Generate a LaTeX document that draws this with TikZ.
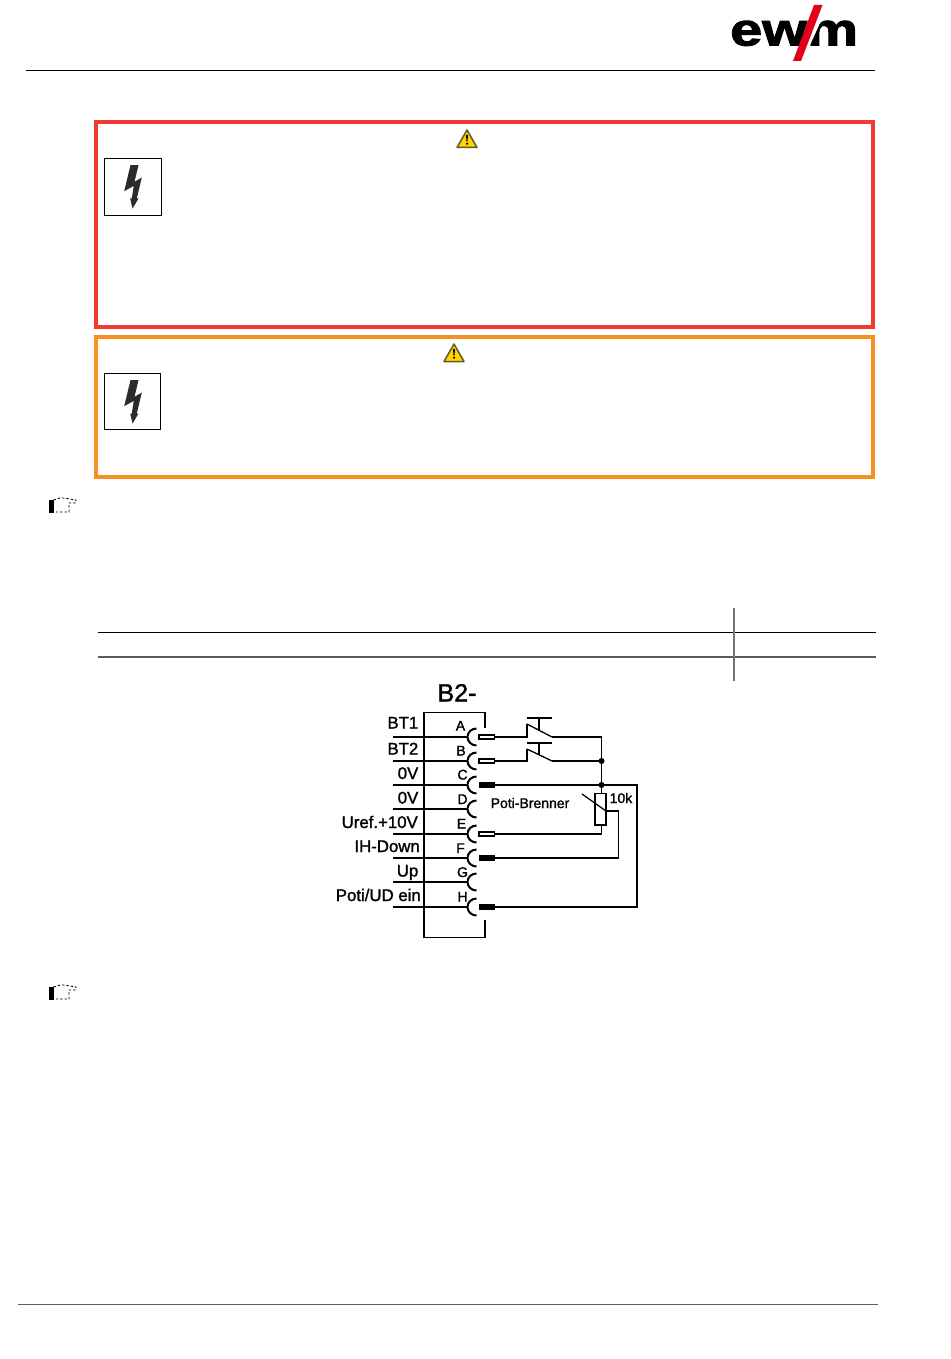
\documentclass[tikz,border=0pt]{standalone}
\usepackage{fontspec}
\setmainfont{Liberation Sans}
\newfontfamily\labfont[FakeBold=1.4]{Liberation Sans}
\usetikzlibrary{calc}
\definecolor{alarmred}{HTML}{F23A30}
\definecolor{alarmorange}{HTML}{F59121}
\definecolor{signyellow}{HTML}{FFD400}
\definecolor{signedge}{HTML}{5F5A28}
\definecolor{rulegray}{HTML}{5C5C5C}
\definecolor{logored}{HTML}{E2001A}
\definecolor{boltgray}{HTML}{2B2B2B}
\tikzset{
  x=1pt,y=-1pt,
  frame/.style={line width=4pt,miter limit=10},
  iconbox/.style={draw=black,line width=1pt},
  wire/.style={line width=1.5pt,line cap=butt,line join=miter},
  blade/.style={line width=1.3pt},
  sockarc/.style={line width=2pt},
  pinfull/.style={fill=black,draw=black,line width=.8pt},
  pinopen/.style={fill=white,draw=black,line width=1.3pt},
  lbl/.style={inner sep=0pt,anchor=base east,font=\labfont\fontsize{16.8}{16.8}\selectfont},
  letter/.style={inner sep=0pt,anchor=base,font=\labfont\fontsize{14}{14}\selectfont},
  dot/.style={circle,fill=black,inner sep=0pt,minimum size=6pt},
}
\newcommand{\boltsign}[2]{%
  \fill[boltgray] ($(#1,#2)+(26,6.7)$)--++(8,0)--($(#1,#2)+(30,23.3)$)--($(#1,#2)+(37.3,19)$)--($(#1,#2)+(32.3,40)$)--($(#1,#2)+(34,40)$)--($(#1,#2)+(28,50)$)--($(#1,#2)+(25.7,40)$)--($(#1,#2)+(27.3,40)$)--($(#1,#2)+(29.3,27.3)$)--($(#1,#2)+(19.7,32.7)$)--cycle;}
\newcommand{\warnsign}[2]{%
  \fill[signyellow,draw=signedge,line width=1.5pt,line join=round] ($(#1,#2)+(-10,9)$)--($(#1,#2)+(0,-8.5)$)--($(#1,#2)+(10,9)$)--cycle;
  \fill[black] ($(#1,#2)+(-1,-3.5)$)--($(#1,#2)+(1,-3.5)$)--($(#1,#2)+(.5,3)$)--($(#1,#2)+(-.5,3)$)--cycle;
  \fill[black] ($(#1,#2)+(0,5.2)$) circle (1.2);}
\newcommand{\handsign}[2]{%
  \fill[black] ($(#1,#2)+(49.3,499.5)$) rectangle ($(#1,#2)+(53.5,512.5)$);
  \draw[line width=.9pt,dash pattern=on 2.4pt off 2pt] ($(#1,#2)+(53.5,500)$)--($(#1,#2)+(60,498)$)--($(#1,#2)+(64,498)$)--($(#1,#2)+(76,500)$)--($(#1,#2)+(76,503)$)--($(#1,#2)+(69,503)$)--($(#1,#2)+(69,512)$)--($(#1,#2)+(53.5,512)$);}
\begin{document}
\begin{tikzpicture}
\useasboundingbox (0,0) rectangle (950,1359);
\fill[white] (0,0) rectangle (950,1359);

% header and footer rules
\coordinate (hl) at (26,71); \coordinate (hr) at (875,71);
\draw[line width=1pt] (hl)--(hr);
\coordinate (fl) at (18,1304.5); \coordinate (fr) at (878,1304.5);
\draw[line width=1.5pt,rulegray] (fl)--(fr);

% logo
\node[inner sep=0pt,anchor=base west,font=\bfseries\addfontfeature{FakeBold=2}\fontsize{46}{46}\selectfont,xscale=1.25] (logotext) at (730,45.5) {ewm};
\fill[white] (819,3)--(829,3)--(802,63)--(792,63)--cycle;
\fill[logored] (814,5)--(822.5,5)--(801,61)--(793,61)--cycle;

% danger frames
\draw[frame,alarmred] (96,122) rectangle (873,326.7);
\draw[frame,alarmorange] (96,336.7) rectangle (873,476.7);
\draw[iconbox] (104.5,158.5) rectangle (161.5,215.5);
\draw[iconbox] (104.5,373.5) rectangle (160.5,429.5);
\boltsign{104.5}{158.5}
\boltsign{104.5}{373.5}
\warnsign{467}{138.5}
\warnsign{454}{352.5}

% pointing hands
\handsign{0}{0}
\handsign{0}{487}

% table rules
\coordinate (t1l) at (97.5,632.5); \coordinate (t1r) at (875.5,632.5);
\coordinate (t2l) at (97.5,657); \coordinate (t2r) at (875.5,657);
\coordinate (tvt) at (734,608); \coordinate (tvb) at (734,681);
\draw[line width=1.2pt] (t1l)--(t1r);
\draw[line width=1.7pt,rulegray] (t2l)--(t2r);
\draw[line width=1.2pt,gray!90!black] (tvt)--(tvb);

% connector housing
\node[inner sep=0pt,anchor=base,font=\labfont\fontsize{25}{25}\selectfont] (title) at (457,701.5) {B2-};
\draw[wire] (485,728)--(485,712.5)--(424,712.5)--(424,937.5)--(485,937.5)--(485,920);

% sockets and stubs
\foreach \nm/\yy in {A/737,B/761,C/785,D/809,E/834,F/858,G/882,H/907}{
  \coordinate (stub\nm) at (393,\yy);
  \coordinate (sock\nm) at (467.5,\yy);
  \coordinate (pin\nm) at (495,\yy);
  \draw[wire] (stub\nm)--(sock\nm);
  \draw[sockarc] ($(sock\nm)+(9,8.5)$) arc[start angle=90,delta angle=180,x radius=9,y radius=8.5];
}
% pins
\foreach \nm/\yy in {A/737,B/761,E/834}{\draw[pinopen] (479,\yy-2) rectangle (494.5,\yy+2);}
\foreach \nm/\yy in {C/785,F/858,H/907}{\draw[pinfull] (479,\yy-2.3) rectangle (494.5,\yy+2.3);}

% labels
\node[lbl] (lA) at (418.5,728.5) {BT1};
\node[lbl] (lB) at (418.5,754.5) {BT2};
\node[lbl] (lC) at (418.5,779) {0V};
\node[lbl] (lD) at (418.5,803.5) {0V};
\node[lbl] (lE) at (418,828) {Uref.+10V};
\node[lbl] (lF) at (420,852) {IH-Down};
\node[lbl] (lG) at (418.5,876.5) {Up};
\node[lbl] (lH) at (421,901) {Poti/UD ein};
\node[letter] (pA) at (460.5,730.5) {A};
\node[letter] (pB) at (461,755.5) {B};
\node[letter] (pC) at (462.5,779.5) {C};
\node[letter] (pD) at (462.5,804) {D};
\node[letter] (pE) at (461.5,828.5) {E};
\node[letter] (pF) at (460.5,853) {F};
\node[letter] (pG) at (462.5,877) {G};
\node[letter] (pH) at (462.5,901.5) {H};
\node[inner sep=0pt,anchor=base,font=\labfont\fontsize{14}{14}\selectfont] (potiname) at (530,808) {Poti-Brenner};
\node[inner sep=0pt,anchor=base,font=\labfont\fontsize{14}{14}\selectfont] (tenk) at (621,803) {10k};

% switches
\coordinate (swAl) at (527,737); \coordinate (swAr) at (552,737);
\coordinate (swBl) at (527,761); \coordinate (swBr) at (552,761);
\coordinate (nB) at (601.5,761); \coordinate (nC) at (601.5,785);
\coordinate (nAr) at (601.5,737);
\draw[wire] (pinA)--(swAl)--(527,724);
\draw[wire] (pinB)--(swBl)--(527,749);
\draw[blade] (527,724)--(swAr);
\draw[blade] (527,749)--(swBr);
\draw[wire] (527,718)--(552,718) (539,718)--(539,730.5);
\draw[wire] (527,743)--(552,743) (539,743)--(539,755);
\draw[wire] (swAr)--(nAr)--(nC);
\draw[wire] (swBr)--(nB);
\node[dot] (dB) at (nB) {};
\node[dot] (dC) at (nC) {};

% potentiometer
\node[draw=black,line width=1.5pt,fill=white,minimum width=11pt,minimum height=31.5pt,inner sep=0pt] (rpot) at (600.5,809) {};
\draw[wire] (nC)--(601.5,793);
\coordinate (eturn) at (601.5,834);
\draw[wire] (601.5,825)--(eturn)--(pinE);
\coordinate (wiperEnd) at (606,811);
\coordinate (wturn) at (618.5,811);
\coordinate (wdown) at (618.5,858);
\draw[blade] (582,794)--(wiperEnd);
\draw[wire] (wiperEnd)--(wturn)--(wdown)--(pinF);
\coordinate (cr) at (637,785); \coordinate (hr2) at (637,907);
\draw[wire] (pinC)--(nC)--(cr)--(hr2)--(pinH);
\end{tikzpicture}
\end{document}
